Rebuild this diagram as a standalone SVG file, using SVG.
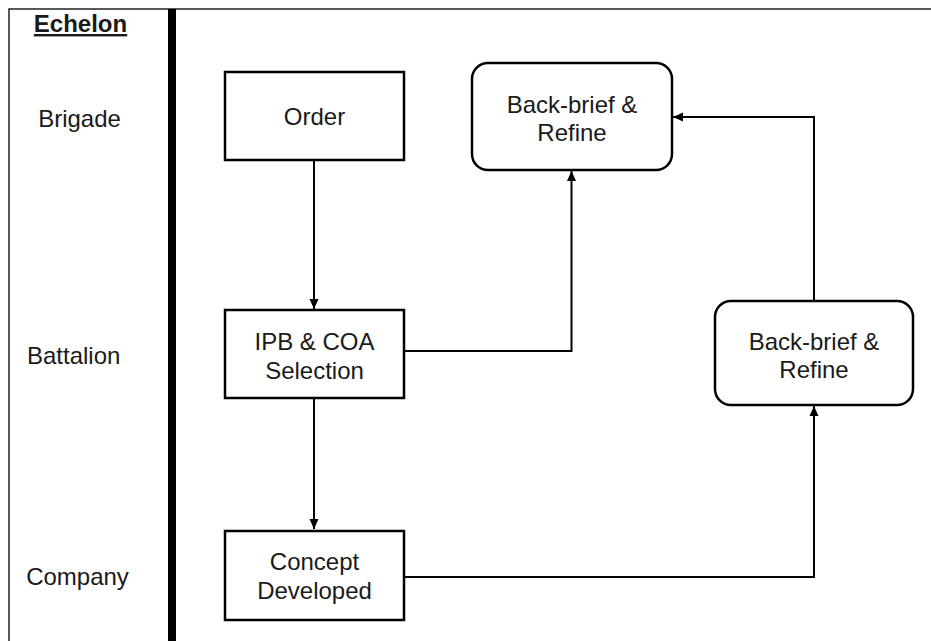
<svg xmlns="http://www.w3.org/2000/svg" width="931" height="641" viewBox="0 0 931 641">
<defs>
<style>
.box{fill:#fff;stroke:#000;stroke-width:2.5}
.lbl{font-family:"Liberation Sans",Arial,sans-serif;font-size:24px;fill:#1a1a1a;text-anchor:middle}
.conn{fill:none;stroke:#000;stroke-width:2}
.frame{stroke:#222;stroke-width:1.5;fill:none}
</style>
<marker id="ah" markerUnits="userSpaceOnUse" markerWidth="10" markerHeight="10" viewBox="0 0 10 10" refX="10" refY="5" orient="auto">
<path d="M0,0.5 L10,5 L0,9.5 Z" fill="#000"/>
</marker>
</defs>
<rect width="931" height="641" fill="#fff"/>
<g id="frame">
<path class="frame" d="M9,641 V9 H931"/>
<rect x="168" y="9" width="8" height="632" fill="#000"/>
</g>
<g id="echelon-labels">
<text class="lbl" x="80.5" y="32" font-weight="bold" text-decoration="underline">Echelon</text>
<text class="lbl" x="79.5" y="126.5">Brigade</text>
<text class="lbl" x="73.7" y="363.5">Battalion</text>
<text class="lbl" x="77.5" y="585">Company</text>
</g>
<g id="connectors">
<path class="conn" d="M314,160 V309" marker-end="url(#ah)"/>
<path class="conn" d="M314,398 V529" marker-end="url(#ah)"/>
<path class="conn" d="M404,351 H571.5 V171" marker-end="url(#ah)"/>
<path class="conn" d="M404,577 H814 V406" marker-end="url(#ah)"/>
<path class="conn" d="M814,301 V117 H673" marker-end="url(#ah)"/>
</g>
<g id="order">
<rect class="box" x="225" y="72" width="179" height="88"/>
<text class="lbl" x="314.5" y="125">Order</text>
</g>
<g id="ipb">
<rect class="box" x="225" y="310" width="179" height="88"/>
<text class="lbl" x="314.5" y="350">IPB &amp; COA</text>
<text class="lbl" x="314.5" y="379">Selection</text>
</g>
<g id="concept">
<rect class="box" x="225" y="531" width="179" height="89"/>
<text class="lbl" x="314.5" y="570">Concept</text>
<text class="lbl" x="314.5" y="599">Developed</text>
</g>
<g id="backbrief-top">
<rect class="box" x="472" y="63" width="200" height="107" rx="16" ry="16"/>
<text class="lbl" x="572" y="113">Back-brief &amp;</text>
<text class="lbl" x="572" y="141">Refine</text>
</g>
<g id="backbrief-right">
<rect class="box" x="715" y="301" width="198" height="104" rx="16" ry="16"/>
<text class="lbl" x="814" y="350">Back-brief &amp;</text>
<text class="lbl" x="814" y="378">Refine</text>
</g>
</svg>
